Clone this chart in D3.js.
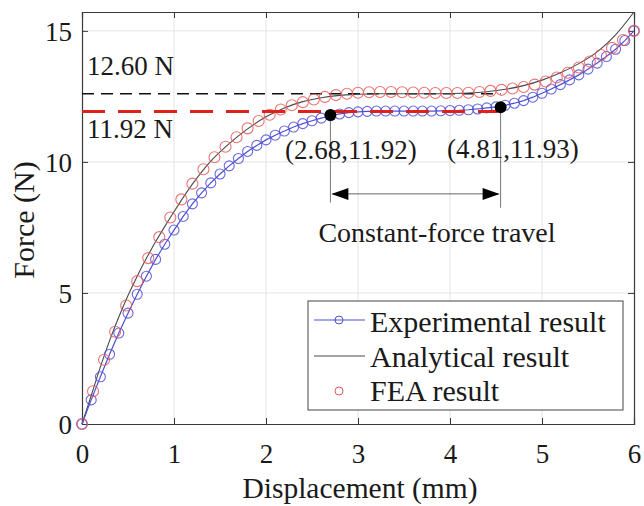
<!DOCTYPE html>
<html><head><meta charset="utf-8">
<script src="https://cdn.jsdelivr.net/npm/d3@7"></script>
<style>body{margin:0;background:#fff}svg{display:block}text{font-family:"Liberation Serif","Times New Roman",serif;fill:#1a1a1a}</style>
</head><body><svg id="c" width="644" height="506"></svg>
<script>
const xTicks=[0,1,2,3,4,5,6];
const yTicks=[0,5,10,15];
const expX=[0,0.1,0.2,0.3,0.4,0.5,0.6,0.7,0.8,0.9,1.0,1.1,1.2,1.3,1.4,1.5,1.6,1.7,1.8,1.9,2.0,2.1,2.2,2.3,2.4,2.5,2.6,2.7,2.8,2.9,3.0,3.1,3.2,3.3,3.4,3.5,3.6,3.7,3.8,3.9,4.0,4.1,4.2,4.3,4.4,4.5,4.6,4.7,4.8,4.9,5.0,5.1,5.2,5.3,5.4,5.5,5.6,5.7,5.8,5.9,6.0];
const expY=[0,0.92,1.80,2.66,3.47,4.23,4.95,5.64,6.28,6.86,7.40,7.92,8.40,8.82,9.20,9.54,9.85,10.13,10.40,10.63,10.84,11.02,11.18,11.33,11.46,11.57,11.67,11.76,11.83,11.88,11.91,11.93,11.94,11.94,11.94,11.94,11.94,11.94,11.94,11.95,11.96,11.97,11.99,12.02,12.06,12.10,12.16,12.24,12.34,12.47,12.62,12.78,12.95,13.13,13.32,13.54,13.77,14.02,14.30,14.63,15.00];
const feaX=[0,0.12,0.24,0.36,0.48,0.60,0.72,0.84,0.96,1.08,1.20,1.32,1.44,1.56,1.68,1.80,1.92,2.04,2.16,2.28,2.40,2.52,2.64,2.76,2.88,3.00,3.12,3.24,3.36,3.48,3.60,3.72,3.84,3.96,4.08,4.20,4.32,4.44,4.56,4.68,4.80,4.92,5.04,5.16,5.28,5.40,5.52,5.64,5.76,5.88,6.00];
const feaY=[0,1.25,2.45,3.52,4.52,5.45,6.33,7.13,7.88,8.57,9.17,9.72,10.18,10.58,10.94,11.28,11.56,11.80,12.00,12.16,12.28,12.38,12.48,12.55,12.60,12.64,12.66,12.67,12.67,12.66,12.65,12.64,12.63,12.63,12.63,12.64,12.67,12.71,12.75,12.80,12.86,12.95,13.07,13.22,13.40,13.60,13.83,14.08,14.35,14.65,15.00];
const anaX=[0,0.1,0.2,0.3,0.4,0.5,0.6,0.7,0.8,0.9,1.0,1.2,1.4,1.6,1.8,2.0,2.2,2.4,2.6,2.8,3.0,3.2,3.4,3.6,3.8,4.0,4.2,4.4,4.6,4.8,5.0,5.2,5.4,5.6,5.8,6.0];
const anaY=[0,1.08,2.18,3.18,4.08,4.90,5.64,6.32,6.95,7.54,8.10,9.15,10.03,10.70,11.26,11.72,12.06,12.30,12.45,12.54,12.58,12.60,12.60,12.60,12.60,12.61,12.63,12.68,12.77,12.91,13.12,13.40,13.75,14.20,14.85,15.72];
const refLevels=[12.60,11.92];
const markX=[2.70,4.55], markY=[11.79,12.09];
const markLabels=["(2.68,11.92)","(4.81,11.93)"];
const legendLabels=["Experimental result","Analytical result","FEA result"];

const svg=d3.select("#c");
const L=82,R=634,T=12,B=424;
const x=d3.scaleLinear().domain([0,6]).range([L,R]);
const y=d3.scaleLinear().domain([0,15.72]).range([B,T]);
const blue="#4f4fd6", red="#e85a5a", axisC="#3a3a3a";
const FF='"Liberation Serif","Times New Roman",serif';

// grid
svg.append("g").selectAll("line").data(xTicks.slice(1,-1)).join("line")
 .attr("x1",d=>x(d)).attr("x2",d=>x(d)).attr("y1",T).attr("y2",B).attr("stroke","#e4e4e4");
svg.append("g").selectAll("line").data(yTicks.slice(1)).join("line")
 .attr("y1",d=>y(d)).attr("y2",d=>y(d)).attr("x1",L).attr("x2",R).attr("stroke","#e4e4e4");

// axes
const ax=svg.append("g").attr("transform",`translate(0,${B})`).call(d3.axisBottom(x).tickValues(xTicks).tickSize(-6).tickPadding(20).tickFormat(d3.format("d")));
const axT=svg.append("g").attr("transform",`translate(0,${T})`).call(d3.axisTop(x).tickValues(xTicks).tickSize(-6).tickFormat(""));
const ay=svg.append("g").attr("transform",`translate(${L},0)`).call(d3.axisLeft(y).tickValues(yTicks).tickSize(-6).tickPadding(10));
const ayR=svg.append("g").attr("transform",`translate(${R},0)`).call(d3.axisRight(y).tickValues(yTicks).tickSize(-6).tickFormat(""));
[ax,axT,ay,ayR].forEach(g=>{g.attr("font-family",FF);g.select(".domain").attr("stroke",axisC).attr("stroke-width",1.2);g.selectAll(".tick line").attr("stroke",axisC);
 g.selectAll("text").style("font-family",FF).style("font-size","27px").attr("fill","#222");});
ay.selectAll("text").attr("dy","0.35em");

// dashed black reference line
svg.append("line").attr("x1",L).attr("x2",x(4.55)).attr("y1",y(refLevels[0])).attr("y2",y(refLevels[0]))
 .attr("stroke","#111").attr("stroke-width",1.6).attr("stroke-dasharray","12,7");
// analytical line
const line=d3.line().x(d=>x(d[0])).y(d=>y(d[1]));
svg.append("path").datum(anaX.map((v,i)=>[v,anaY[i]])).attr("fill","none").attr("stroke","#4a4a4a").attr("stroke-width",1.1)
 .attr("d",line.curve(d3.curveMonotoneX));
// experimental
const expPts=expX.map((v,i)=>[v,expY[i]]);
svg.append("path").attr("fill","none").attr("stroke",blue).attr("stroke-width",1.2)
 .attr("d",d3.line().x(d=>x(d[0])).y(d=>y(d[1]))(expPts));
svg.append("g").selectAll("circle").data(expPts).join("circle")
 .attr("cx",d=>x(d[0])).attr("cy",d=>y(d[1])).attr("r",5).attr("fill","none").attr("stroke",blue).attr("stroke-opacity",0.85).attr("stroke-width",1.1);
// FEA
svg.append("g").selectAll("circle").data(feaX.map((v,i)=>[v,feaY[i]])).join("circle")
 .attr("cx",d=>x(d[0])).attr("cy",d=>y(d[1])).attr("r",5.5).attr("fill","none").attr("stroke",red).attr("stroke-opacity",0.85).attr("stroke-width",1.1);
svg.append("line").attr("x1",L).attr("x2",x(4.52)).attr("y1",y(refLevels[1])).attr("y2",y(refLevels[1]))
 .attr("stroke","#e0201a").attr("stroke-width",3).attr("stroke-dasharray","23,13");

// marks
svg.append("g").selectAll("line").data(markX).join("line")
 .attr("x1",d=>x(d)).attr("x2",d=>x(d)).attr("y1",(d,i)=>y(markY[i])).attr("y2",(d,i)=>i?y(8.25):y(8.45)).attr("stroke","#777").attr("stroke-width",1);
svg.append("g").selectAll("circle").data(markX).join("circle")
 .attr("cx",d=>x(d)).attr("cy",(d,i)=>y(markY[i])).attr("r",6).attr("fill","#000");
// double arrow
const ayv=y(8.78);
svg.append("line").attr("x1",x(markX[0])+2).attr("x2",x(markX[1])-2).attr("y1",ayv).attr("y2",ayv).attr("stroke","#666").attr("stroke-width",1);
const ah=(px,dir)=>`M${px},${ayv}L${px+dir*17},${ayv-6}L${px+dir*17},${ayv+6}Z`;
svg.append("path").attr("d",ah(x(markX[0])+1,1)).attr("fill","#000");
svg.append("path").attr("d",ah(x(markX[1])-1,-1)).attr("fill","#000");

// texts
const txt=(s,px,py,anchor,size)=>svg.append("text").attr("x",px).attr("y",py).attr("text-anchor",anchor||"start").style("font-family",FF).style("font-size",(size||27)+"px").text(s);
txt("12.60 N",87,75);
txt("11.92 N",87,138);
txt(markLabels[0],285,159);
txt(markLabels[1],447,158);
txt("Constant-force travel",437,242,"middle",28);
txt("Displacement (mm)",360,498,"middle",29.5);
svg.append("text").attr("transform","translate(34,220) rotate(-90)").attr("text-anchor","middle").style("font-family",FF).style("font-size","30px").text("Force (N)");

// legend
const lg=svg.append("g");
lg.append("rect").attr("x",308).attr("y",301).attr("width",315).attr("height",109).attr("fill","#fff").attr("stroke","#444").attr("stroke-width",1);
const rows=[320,356,391];
lg.append("line").attr("x1",314).attr("x2",365).attr("y1",rows[0]).attr("y2",rows[0]).attr("stroke",blue).attr("stroke-width",1.2);
lg.append("circle").attr("cx",339).attr("cy",rows[0]).attr("r",4).attr("fill","none").attr("stroke",blue);
lg.append("line").attr("x1",314).attr("x2",365).attr("y1",rows[1]).attr("y2",rows[1]).attr("stroke","#4a4a4a").attr("stroke-width",1.1);
lg.append("circle").attr("cx",339).attr("cy",rows[2]).attr("r",4).attr("fill","none").attr("stroke",red);
lg.selectAll("text.l").data(legendLabels).join("text").attr("class","l").attr("x",370).attr("y",(d,i)=>[332,367,401][i]).style("font-family",FF).style("font-size","30px").text(d=>d);
</script></body></html>
